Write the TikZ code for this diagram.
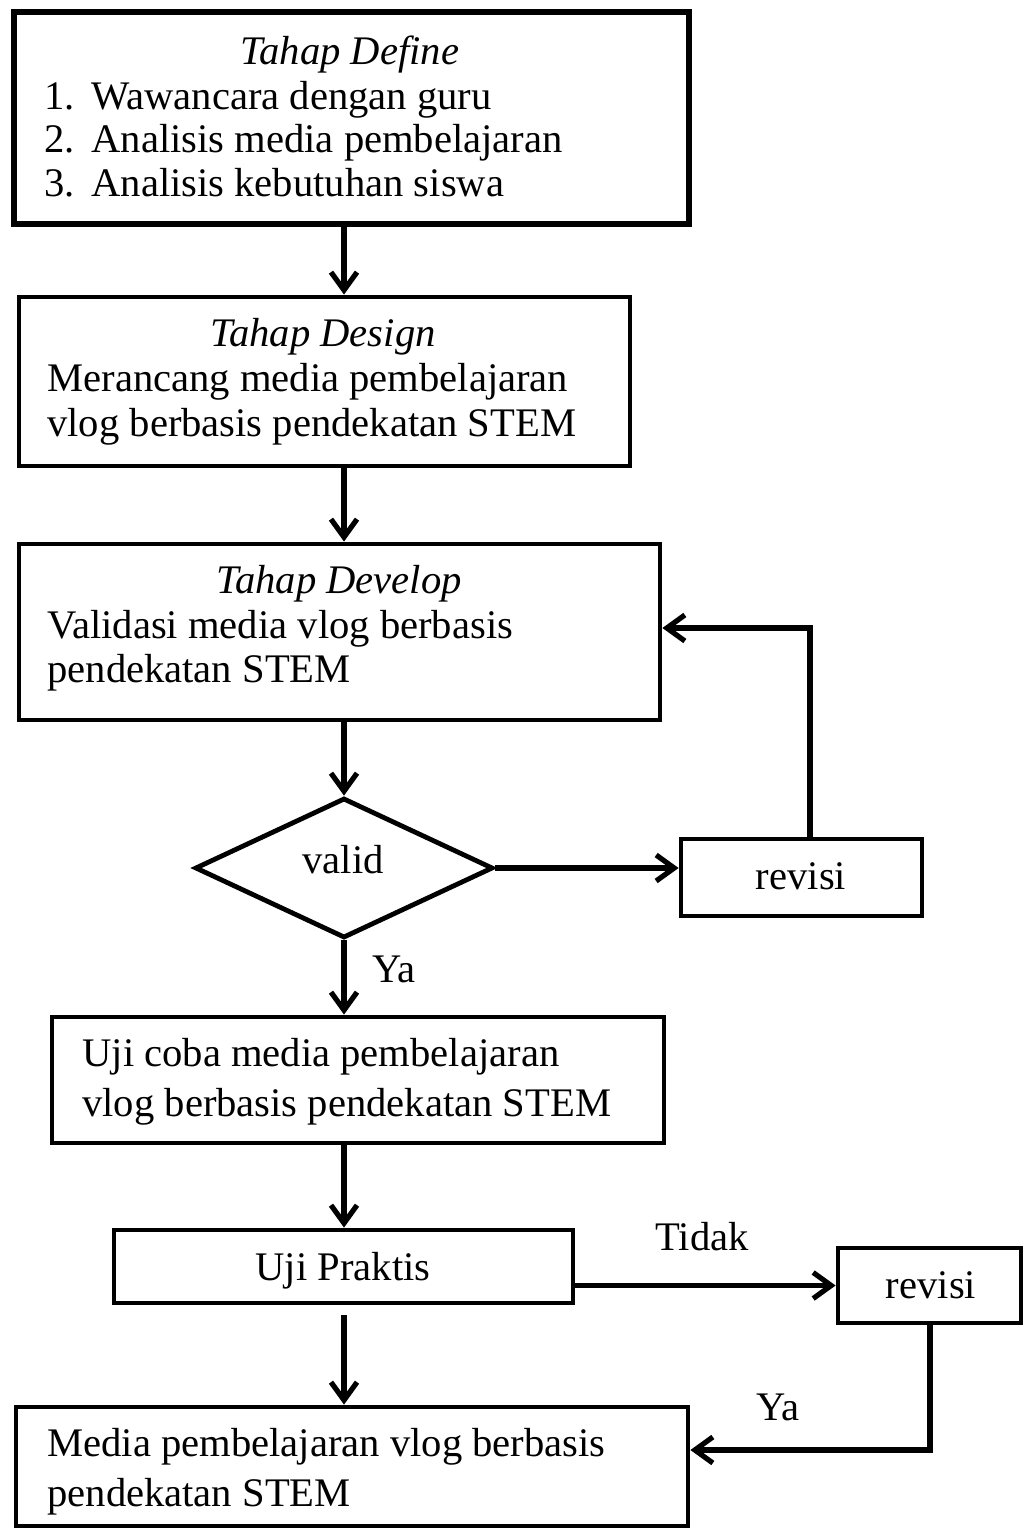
\documentclass[tikz,border=0pt]{standalone}
\usepackage{fontspec}
\setmainfont{Liberation Serif}
\usetikzlibrary{arrows.meta,fit,shapes.geometric,calc}
\begin{document}
\begin{tikzpicture}[x=0.5pt,y=-0.5pt,
  box/.style={draw=black,line width=2.4pt,inner sep=0pt,rectangle},
  bigbox/.style={box,line width=3.3pt},
  txt/.style={inner sep=0pt,anchor=base west,font=\fontsize{20.3}{23}\selectfont},
  ctxt/.style={txt,anchor=base},
  arr/.style={line width=2.6pt,-{Straight Barb[length=9pt,width=13pt,line width=2.6pt]}},
]
\useasboundingbox (0,0) rectangle (1024,1529);
\coordinate (mx) at (344,0);

% boxes
\node[bigbox,fit={(14,12)(689,224)}] (b1) {};
\node[box,fit={(19,297)(630,466)}] (b2) {};
\node[box,fit={(19,544)(660,720)}] (b3) {};
\node[draw=black,line width=2.4pt,diamond,inner sep=0pt,minimum width=149pt,minimum height=70pt] (d) at (344,868) {};
\node[box,fit={(681,839)(922,916)}] (r1) {};
\node[box,fit={(52,1017)(664,1143)}] (b4) {};
\node[box,fit={(114,1230)(573,1303)}] (b5) {};
\node[box,fit={(838,1248)(1021,1323)}] (r2) {};
\node[box,fit={(16,1407)(688,1526)}] (b6) {};

% texts
\node[ctxt] (t1a) at (350,65) {\itshape Tahap Define};
\node[txt] (t1b) at (44,110) {1.};
\node[txt] (t1c) at (91,110) {Wawancara dengan guru};
\node[txt] (t1d) at (44,153) {2.};
\node[txt] (t1e) at (91,153) {Analisis media pembelajaran};
\node[txt] (t1f) at (44,197) {3.};
\node[txt] (t1g) at (91,197) {Analisis kebutuhan siswa};

\node[ctxt] (t2a) at (323,347) {\itshape Tahap Design};
\node[txt] (t2b) at (47,392) {Merancang media pembelajaran};
\node[txt] (t2c) at (47,437) {vlog berbasis pendekatan STEM};

\node[ctxt] (t3a) at (339,593) {\itshape Tahap Develop};
\node[txt] (t3b) at (47,638) {Validasi media vlog berbasis};
\node[txt] (t3c) at (47,682) {pendekatan STEM};

\node[ctxt] (tv) at (343,873) {valid};
\node[ctxt] (tr1) at (801,889) {revisi};
\node[txt] (ya1) at (372,982) {Ya};

\node[txt] (t4a) at (82,1066) {Uji coba media pembelajaran};
\node[txt] (t4b) at (82,1116) {vlog berbasis pendekatan STEM};

\node[ctxt] (t5) at (343,1280) {Uji Praktis};
\node[txt] (tdk) at (655,1250) {Tidak};
\node[ctxt] (tr2) at (931,1298) {revisi};
\node[txt] (ya2) at (756,1420) {Ya};

\node[txt] (t6a) at (47,1456) {Media pembelajaran vlog berbasis};
\node[txt] (t6b) at (47,1506) {pendekatan STEM};

% connectors
\draw[arr] (b1.south -| mx) -- (b2.north -| mx);
\draw[arr] (b2.south -| mx) -- (b3.north -| mx);
\draw[arr] (b3.south -| mx) -- (d.north);
\draw[arr] (d.east) -- (r1.west |- d.east);
\coordinate (rx1) at (810,0);
\coordinate (ry1) at (0,628);
\draw[arr] (r1.north -| rx1) |- (b3.east |- ry1);
\draw[arr] (d.south) -- (b4.north -| d.south);
\draw[arr] (b4.south -| mx) -- (b5.north -| mx);
\draw[arr] (b5.east |- r2.west) -- (r2.west);
\draw[arr,shorten <=5pt] (b5.south -| mx) -- (b6.north -| mx);
\coordinate (rx2) at (930,0);
\coordinate (ry2) at (0,1450);
\draw[arr] (r2.south -| rx2) |- (b6.east |- ry2);
\end{tikzpicture}
\end{document}
